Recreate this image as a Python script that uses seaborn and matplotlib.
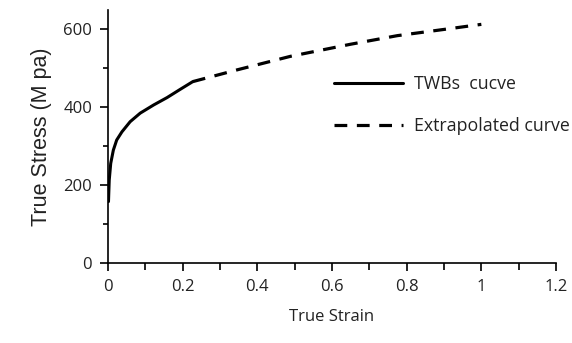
import matplotlib
matplotlib.use("Agg")
import matplotlib.pyplot as plt
from matplotlib.ticker import MultipleLocator
import seaborn as sns
import pandas as pd

sns.set_theme(style="white")
plt.rcParams["font.family"] = ["Open Sans", "DejaVu Sans"]

# Measured flow curve of the tailor-welded blank
twb_strain = [0.001, 0.003, 0.007, 0.014, 0.023, 0.037, 0.059, 0.086, 0.122, 0.158, 0.193, 0.227]
twb_stress = [158, 213, 256, 290, 316, 337, 363, 385, 406, 425, 446, 466]

# Extrapolation of the flow curve to large strains
ext_strain = [0.227, 0.345, 0.489, 0.65, 0.775, 0.9, 1.0]
ext_stress = [466, 496, 531, 562, 584, 600, 613]

labels = ["TWBs  cucve", "Extrapolated curve"]

twb = pd.DataFrame({"strain": twb_strain, "stress": twb_stress})
ext = pd.DataFrame({"strain": ext_strain, "stress": ext_stress})

fig = plt.figure(figsize=(5.72, 3.43), dpi=100)
ax = fig.add_axes([0.189, 0.233, 0.783, 0.738])

sns.lineplot(data=twb, x="strain", y="stress", ax=ax, color="black",
             linewidth=2.2, label=labels[0], sort=False)
sns.lineplot(data=ext, x="strain", y="stress", ax=ax, color="black",
             linewidth=2.3, label=labels[1], sort=False)
ax.lines[0].set_solid_joinstyle("round")
ax.lines[1].set_linestyle((0, (4, 3)))
ax.lines[1].set_dash_joinstyle("round")

ax.set_xlim(0, 1.2)
ax.set_ylim(0, 650)
ax.xaxis.set_major_locator(MultipleLocator(0.2))
ax.xaxis.set_minor_locator(MultipleLocator(0.1))
ax.yaxis.set_major_locator(MultipleLocator(200))
ax.yaxis.set_minor_locator(MultipleLocator(100))
ax.set_xticks([0, 0.2, 0.4, 0.6, 0.8, 1.0, 1.2])
ax.set_xticklabels(["0", "0.2", "0.4", "0.6", "0.8", "1", "1.2"])

for side in ("top", "right"):
    ax.spines[side].set_visible(False)
for side in ("left", "bottom"):
    ax.spines[side].set_color("black")
    ax.spines[side].set_linewidth(1.2)

ax.tick_params(which="major", direction="out", length=5.5, width=1.2,
               color="black", labelsize=12, labelcolor="#222222", pad=6,
               bottom=True, left=True)
ax.tick_params(which="minor", direction="out", length=3.5, width=1.2,
               color="black", bottom=True, left=True)
ax.tick_params(axis="x", which="minor", length=5.0)

ax.set_xlabel("True Strain", fontsize=12, color="#222222", labelpad=10)
ax.set_ylabel("True Stress (M pa)", fontsize=15.5, color="#222222", labelpad=8,
              family=["Liberation Sans", "DejaVu Sans"])

leg = ax.legend(loc="center left", bbox_to_anchor=(0.468, 0.625), frameon=False,
                fontsize=12.8, handlelength=3.9, handletextpad=0.6,
                labelspacing=1.35)
for t in leg.get_texts():
    t.set_color("#222222")

ax.grid(False)
fig.savefig("out.png", dpi=100)
